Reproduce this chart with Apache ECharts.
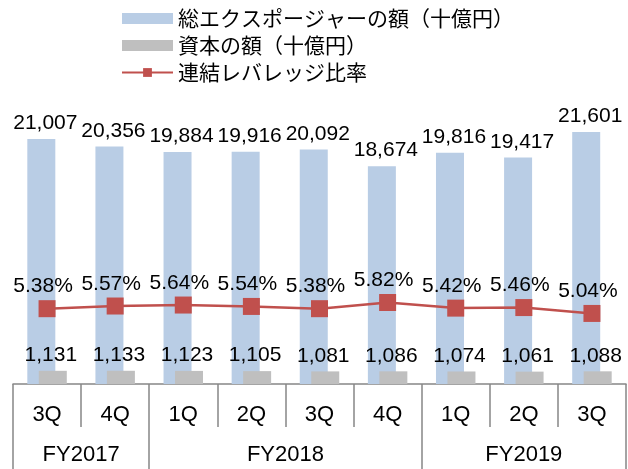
<!DOCTYPE html>
<html>
<head>
<meta charset="utf-8">
<script src="https://cdn.jsdelivr.net/npm/echarts@6/dist/echarts.min.js"></script>
<style>html,body{margin:0;padding:0;background:#fff}#c{width:628px;height:469px}</style>
</head>
<body>
<div id="c"></div>
<script>
const quarters = ['3Q','4Q','1Q','2Q','3Q','4Q','1Q','2Q','3Q'];
const fiscalYears = ['FY2017','FY2018','FY2019'];
const fyCenters = [1, 4, 7.5];
const fyBounds = [0, 2, 6, 9];
const exposure = [21007, 20356, 19884, 19916, 20092, 18674, 19816, 19417, 21601];
const capital = [1131, 1133, 1123, 1105, 1081, 1086, 1074, 1061, 1088];
const leverage = [5.38, 5.57, 5.64, 5.54, 5.38, 5.82, 5.42, 5.46, 5.04];
const seriesNames = ['総エクスポージャーの額（十億円）','資本の額（十億円）','連結レバレッジ比率'];

const numFont = "'Liberation Sans', Arial, sans-serif";
const cjkFont = "'Noto Sans CJK JP', sans-serif";
const fmt = v => Number(v).toLocaleString('en-US');

const chart = echarts.init(document.getElementById('c'), null, {renderer: 'canvas'});
chart.setOption({
  animation: false,
  backgroundColor: '#ffffff',
  textStyle: {fontFamily: numFont},
  legend: {
    orient: 'vertical',
    left: 121,
    top: 8,
    padding: 0,
    itemGap: 6,
    itemWidth: 51,
    itemHeight: 11,
    textStyle: {fontFamily: cjkFont, fontSize: 21, color: '#000'},
    data: [
      {name: seriesNames[0], icon: 'rect'},
      {name: seriesNames[1], icon: 'rect'},
      {name: seriesNames[2]}
    ]
  },
  grid: {left: 13, right: 2, top: 104, bottom: 85, containLabel: false},
  xAxis: [
    {
      type: 'category',
      data: quarters,
      position: 'bottom',
      boundaryGap: true,
      axisLine: {show: true, lineStyle: {color: '#878787', width: 1.5}},
      axisTick: {show: true, length: 43, lineStyle: {color: '#878787', width: 1.5}},
      axisLabel: {fontFamily: numFont, fontSize: 22, color: '#000', margin: 20, interval: 0}
    },
    {
      type: 'value',
      min: 0,
      max: 9,
      position: 'bottom',
      axisLine: {show: false},
      splitLine: {show: false},
      axisTick: {show: true, customValues: fyBounds, length: 86, lineStyle: {color: '#878787', width: 1.5}},
      axisLabel: {
        customValues: fyCenters,
        fontFamily: numFont, fontSize: 22, color: '#000', margin: 60,
        formatter: v => {
          const i = fyCenters.indexOf(v);
          return i >= 0 ? fiscalYears[i] : '';
        }
      }
    }
  ],
  yAxis: [
    {type: 'value', min: 0, max: 24000, show: false, splitLine: {show: false}},
    {type: 'value', min: 0, max: 20, show: false, splitLine: {show: false}}
  ],
  series: [
    {
      name: seriesNames[0],
      type: 'bar',
      xAxisIndex: 0,
      yAxisIndex: 0,
      data: exposure,
      barWidth: 28,
      barGap: '-59%',
      itemStyle: {color: '#B9CDE5'},
      label: {show: true, position: 'top', distance: 5, offset: [4, 0], fontFamily: numFont, fontSize: 21, color: '#000', formatter: p => fmt(p.value)},
      z: 2
    },
    {
      name: seriesNames[1],
      type: 'bar',
      xAxisIndex: 0,
      yAxisIndex: 0,
      data: capital,
      barWidth: 28,
      barGap: '-59%',
      itemStyle: {color: '#BFBFBF'},
      label: {show: true, position: 'top', distance: 5, offset: [-2, 0], fontFamily: numFont, fontSize: 21, color: '#000', formatter: p => fmt(p.value)},
      z: 3
    },
    {
      name: seriesNames[2],
      type: 'line',
      xAxisIndex: 0,
      yAxisIndex: 1,
      data: leverage,
      symbol: 'rect',
      symbolSize: 17,
      lineStyle: {color: '#C0504D', width: 2.5},
      itemStyle: {color: '#C0504D'},
      label: {show: true, position: 'top', distance: 3, offset: [-4, 0], fontFamily: numFont, fontSize: 21, color: '#000', formatter: p => p.value.toFixed(2) + '%'},
      z: 4
    }
  ]
});
</script>
</body>
</html>
